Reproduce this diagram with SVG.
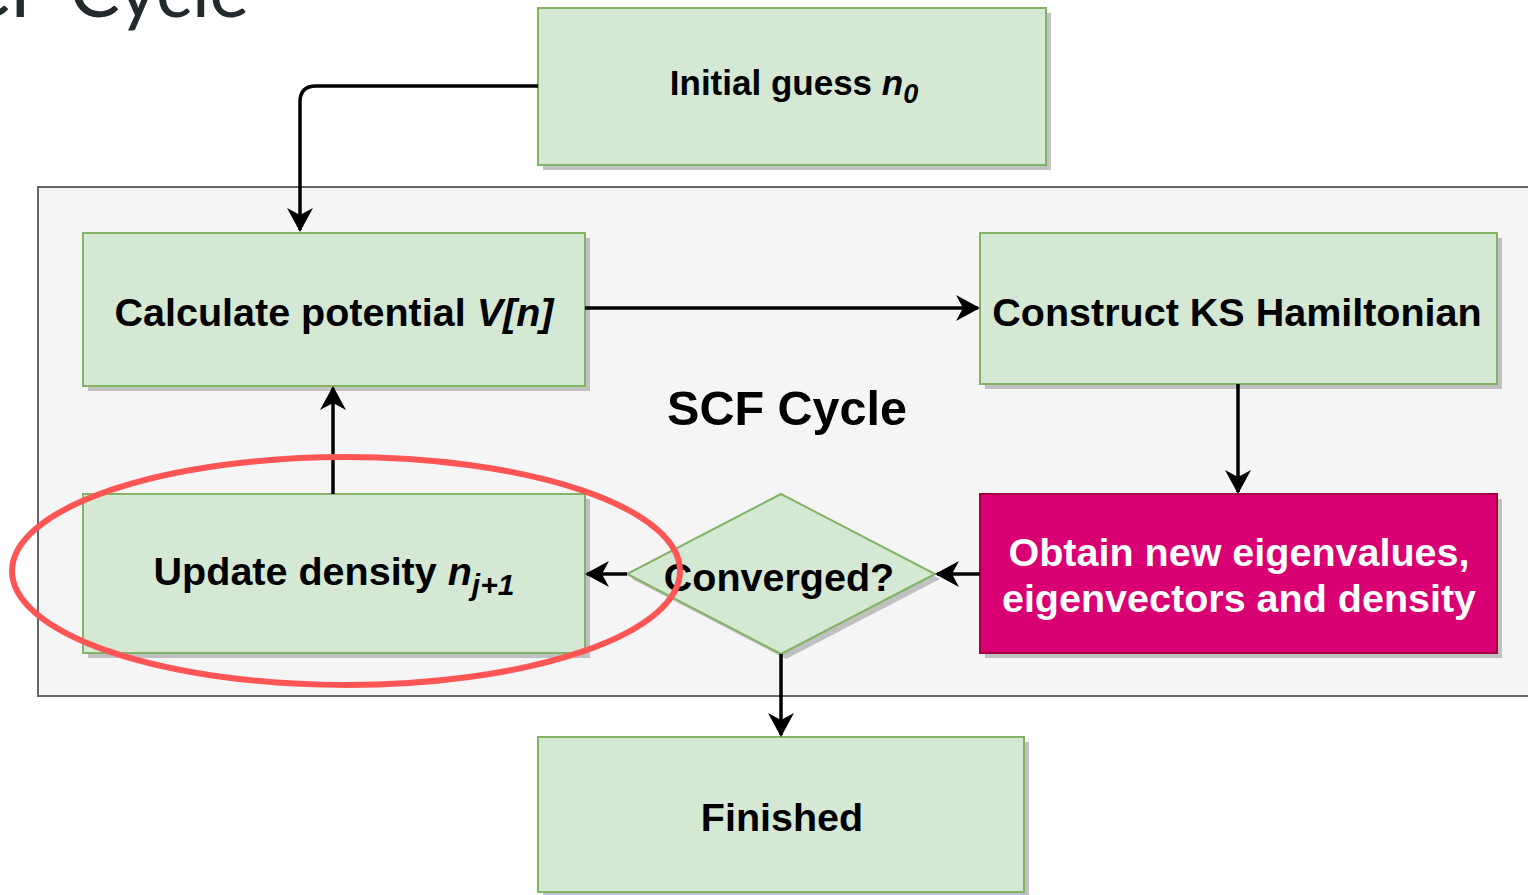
<svg xmlns="http://www.w3.org/2000/svg" width="1528" height="895" viewBox="0 0 1528 895">
<defs>
<style>
.box{fill:#d5e8d4;stroke:#82b366;stroke-width:2}
.shadow{fill:#b3b3b3;opacity:0.8}
.lbl{font-family:"Liberation Sans",Arial,sans-serif;font-weight:bold;fill:#000;text-anchor:middle}
.conn{fill:none;stroke:#000;stroke-width:3.5}
</style>
<marker id="arr" viewBox="0 0 24 26" refX="22" refY="13" markerWidth="24" markerHeight="26" markerUnits="userSpaceOnUse" orient="auto">
<path d="M0,0 L24,13 L0,26 L7,13 Z" fill="#000"/>
</marker>
</defs>
<rect width="1528" height="895" fill="#ffffff"/>
<text x="-81" y="17" font-family="Lato,'Open Sans',sans-serif" font-size="75" fill="#232a2d">SCF Cycle</text>

<g id="container">
<rect x="38" y="187" width="1500" height="509" fill="#f5f5f5" stroke="#666666" stroke-width="2"/>
<text class="lbl" x="787" y="425" font-size="48.5">SCF Cycle</text>
</g>

<g id="initial">
<rect class="shadow" x="543" y="13" width="508" height="157"/>
<rect class="box" x="538" y="8" width="508" height="157"/>
<text class="lbl" x="794" y="95" font-size="35">Initial guess <tspan font-style="italic">n<tspan font-size="27" dy="8">0</tspan></tspan></text>
</g>

<g id="calc">
<rect class="shadow" x="88" y="238" width="502" height="153"/>
<rect class="box" x="83" y="233" width="502" height="153"/>
<text class="lbl" x="334" y="326" font-size="39.5">Calculate potential <tspan font-style="italic">V[n]</tspan></text>
</g>

<g id="construct">
<rect class="shadow" x="985" y="238" width="517" height="151"/>
<rect class="box" x="980" y="233" width="517" height="151"/>
<text class="lbl" x="1237" y="326" font-size="39.5">Construct KS Hamiltonian</text>
</g>

<g id="obtain">
<rect class="shadow" x="985" y="499" width="517" height="159"/>
<rect x="980" y="494" width="517" height="159" fill="#d80073" stroke="#a50040" stroke-width="2"/>
<text class="lbl" x="1239" y="566" font-size="39.5" style="fill:#fff">Obtain new eigenvalues,</text>
<text class="lbl" x="1239" y="612" font-size="39.5" style="fill:#fff">eigenvectors and density</text>
</g>

<g id="update">
<rect class="shadow" x="88" y="499" width="502" height="159"/>
<rect class="box" x="83" y="494" width="502" height="159"/>
<text class="lbl" x="334" y="585" font-size="39.5">Update density <tspan font-style="italic">n<tspan font-size="30" dy="10">j+1</tspan></tspan></text>
</g>

<g id="converged">
<polygon class="shadow" points="786,499 940,579 786,659 632,579"/>
<polygon class="box" points="781,494 935,574 781,654 627,574"/>
<text class="lbl" x="779" y="591" font-size="39.5">Converged?</text>
</g>

<g id="finished">
<rect class="shadow" x="543" y="742" width="486" height="155"/>
<rect class="box" x="538" y="737" width="486" height="155"/>
<text class="lbl" x="782" y="831" font-size="39.5">Finished</text>
</g>

<g id="connectors">
<path class="conn" d="M538,86 H316 Q300,86 300,102 V230" marker-end="url(#arr)"/>
<path class="conn" d="M585,308 H978" marker-end="url(#arr)"/>
<path class="conn" d="M1238,384 V492" marker-end="url(#arr)"/>
<path class="conn" d="M980,574 H937" marker-end="url(#arr)"/>
<path class="conn" d="M627,574 H587" marker-end="url(#arr)"/>
<path class="conn" d="M333,494 V388" marker-end="url(#arr)"/>
<path class="conn" d="M781,654 V735" marker-end="url(#arr)"/>
</g>

<g id="highlight">
<ellipse cx="346" cy="571" rx="334" ry="114" fill="none" stroke="#ff5555" stroke-width="6"/>
</g>
</svg>
